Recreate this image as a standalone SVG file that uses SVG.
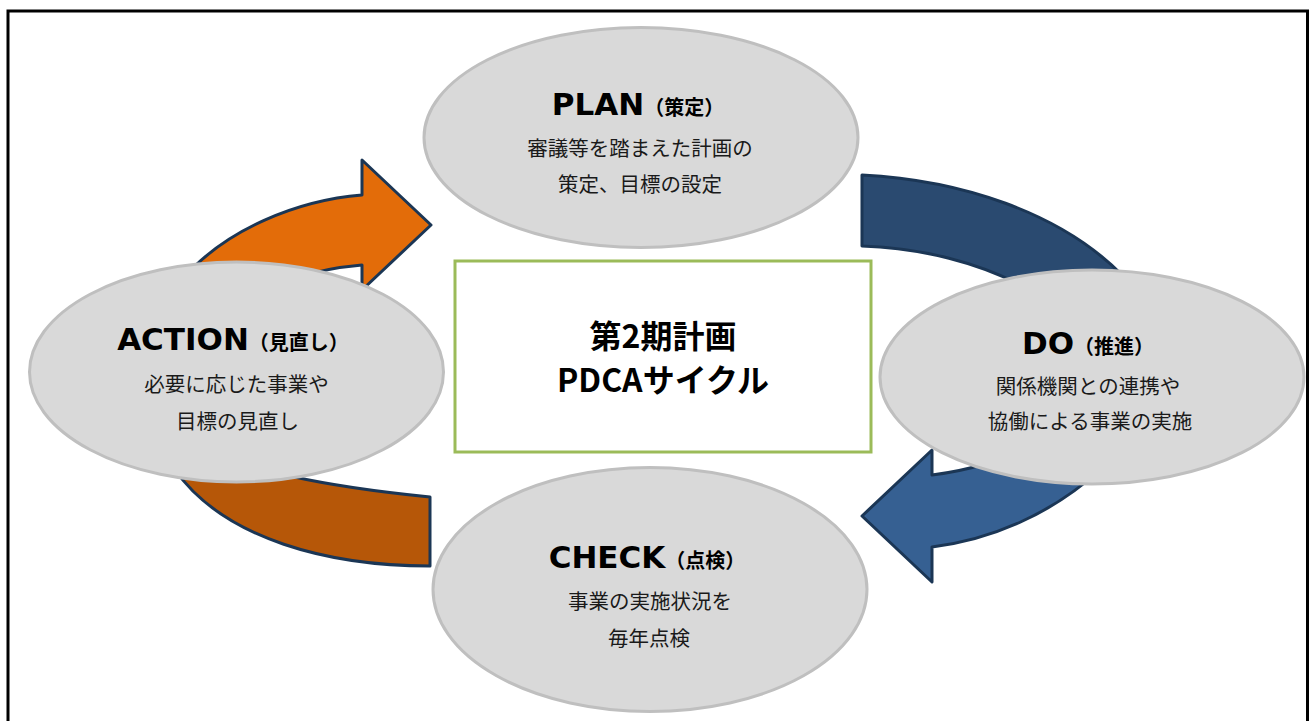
<svg xmlns="http://www.w3.org/2000/svg" width="1310" height="721" viewBox="0 0 1310 721">
<style>
.arrow{stroke:#1B3655;stroke-width:3;stroke-linejoin:round}
.node{fill:#D9D9D9;stroke:#BFBFBF;stroke-width:3}
.title{font-family:"DejaVu Sans","Noto Sans CJK JP",sans-serif;font-weight:bold;font-size:31px;fill:#000}
.paren{font-family:"Noto Sans CJK JP",sans-serif;font-weight:bold;font-size:20px}
.body{font-family:"Noto Sans CJK JP",sans-serif;font-size:20.5px;fill:#1a1a1a;text-anchor:middle}
.center{font-family:"Noto Sans CJK JP",sans-serif;font-weight:bold;font-size:32px;fill:#000;text-anchor:middle}
</style>
<rect x="0" y="0" width="1310" height="721" fill="#fff"/>
<rect x="8" y="11" width="1299.5" height="730" fill="none" stroke="#000" stroke-width="3"/>
<g id="connectors">
<path class="arrow" fill="#E36C09" d="M362,195 L362,160 L431,225 L362,290 L362,265 C340,267 320,270 300,277 L240,360 L180,282 C225,228 300,200 362,195 Z"/>
<path class="arrow" fill="#B65708" d="M430,497 L430,566 C330,566 225,540 175,470 L240,440 L290,476 C330,485 390,493 430,497 Z"/>
<path class="arrow" fill="#2A4A70" d="M862,175 C960,180 1060,212 1122,275 L1100,320 L1030,290 C980,262 920,248 862,246 Z"/>
<path class="arrow" fill="#366092" d="M932,450 L862,516 L932,582 L932,547 C990,540 1050,515 1100,470 L1050,420 L985,464 C965,470 948,473 932,475 Z"/>
</g>
<g id="center">
<rect x="455" y="261" width="416" height="191" fill="#fff" stroke="#9BBB59" stroke-width="3"/>
<text class="center" x="663" y="348">第2期計画</text>
<text class="center" x="663" y="392">PDCAサイクル</text>
</g>
<g id="plan">
<ellipse class="node" cx="641" cy="137.5" rx="217" ry="110"/>
<text class="title" x="638" y="115" text-anchor="middle">PLAN<tspan class="paren">（策定）</tspan></text>
<text class="body" x="640" y="156">審議等を踏まえた計画の</text>
<text class="body" x="640" y="192">策定、目標の設定</text>
</g>
<g id="do">
<ellipse class="node" cx="1092" cy="377" rx="212" ry="107"/>
<text class="title" x="1088" y="354" text-anchor="middle">DO<tspan class="paren">（推進）</tspan></text>
<text class="body" x="1088" y="394">関係機関との連携や</text>
<text class="body" x="1090" y="429">協働による事業の実施</text>
</g>
<g id="check">
<ellipse class="node" cx="650" cy="589.5" rx="217" ry="122"/>
<text class="title" x="647" y="568" text-anchor="middle">CHECK<tspan class="paren">（点検）</tspan></text>
<text class="body" x="650" y="609">事業の実施状況を</text>
<text class="body" x="649" y="646">毎年点検</text>
</g>
<g id="action">
<ellipse class="node" cx="236.5" cy="372" rx="207" ry="110"/>
<text class="title" x="233" y="350" text-anchor="middle">ACTION<tspan class="paren">（見直し）</tspan></text>
<text class="body" x="236.5" y="392">必要に応じた事業や</text>
<text class="body" x="237.5" y="429">目標の見直し</text>
</g>
</svg>
